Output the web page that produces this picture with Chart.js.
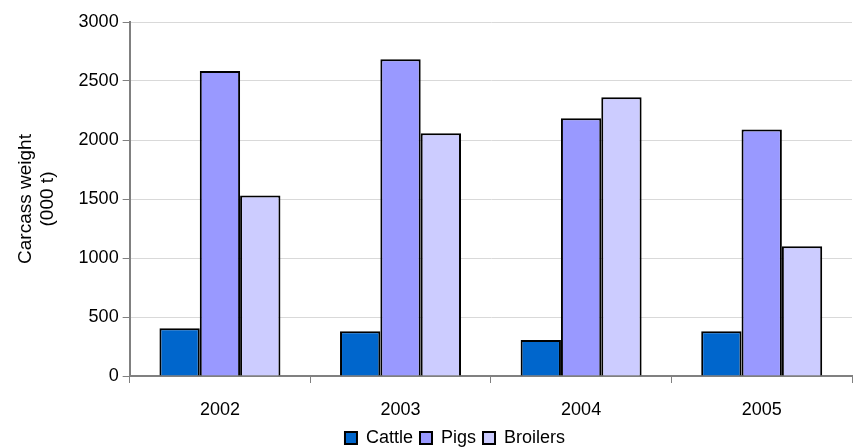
<!DOCTYPE html>
<html>
<head>
<meta charset="utf-8">
<script src="https://cdn.jsdelivr.net/npm/chart.js@4/dist/chart.umd.min.js"></script>
<style>
  html, body { margin: 0; padding: 0; background: #fff; }
  #wrap { width: 854px; height: 448px; }
</style>
</head>
<body>
<div id="wrap"><canvas id="chart" width="854" height="448"></canvas></div>
<script>
// values (000 t)
const years = ['2002', '2003', '2004', '2005'];
const cattle = [405, 380, 305, 380];
const pigs = [2585, 2685, 2185, 2090];
const broilers = [1530, 2058, 2362, 1100];
const yTicks = [0, 500, 1000, 1500, 2000, 2500, 3000];

const font = { family: '"Liberation Sans", Arial, sans-serif', size: 18 };

function series(label, data, color) {
  return {
    label, data,
    backgroundColor: color,
    borderColor: '#000',
    borderWidth: 2,
    barPercentage: 1,
    categoryPercentage: 0.67
  };
}

// nudge the legend down/right to where the reference puts it,
// and let the x axis box reach the bottom so its labels aren't clipped
const legendNudge = {
  id: 'legendNudge',
  afterLayout(chart) {
    const lg = chart.legend;
    lg.top += 9; lg.bottom += 9;
    lg.left += 24; lg.right += 24;
    const x = chart.scales.x;
    x.bottom = 448;
    x.height = x.bottom - x.top;
  }
};

new Chart(document.getElementById('chart'), {
  type: 'bar',
  data: {
    labels: years,
    datasets: [
      series('Cattle', cattle, '#0066cc'),
      series('Pigs', pigs, '#9999ff'),
      series('Broilers', broilers, '#ccccff')
    ]
  },
  plugins: [legendNudge],
  options: {
    responsive: false,
    animation: false,
    layout: { padding: { top: 22, right: 2, left: 10, bottom: 0 } },
    plugins: {
      tooltip: { enabled: false },
      legend: {
        position: 'bottom',
        labels: {
          font, color: '#000',
          boxWidth: 12, boxHeight: 12,
          padding: 7
        }
      }
    },
    scales: {
      x: {
        grid: { offset: true, drawOnChartArea: false, color: '#808080', tickLength: 7 },
        border: { color: '#808080', width: 2 },
        ticks: { font, color: '#000', padding: 16 },
        // keep the plot bottom where the reference has it
        afterFit: s => { s.height = 448 - 376 - s.chart.legend.height; }
      },
      y: {
        min: 0, max: 3000,
        afterBuildTicks: axis => { axis.ticks = yTicks.map(v => ({ value: v })); },
        grid: { color: '#d9d9d9', tickColor: '#808080', tickLength: 7 },
        border: { color: '#808080', width: 2 },
        ticks: { font, color: '#000', padding: 4, callback: v => String(v) },
        title: {
          display: true,
          text: ['Carcass weight', '(000 t)'],
          font: { family: font.family, size: 19 },
          color: '#000',
          padding: { bottom: 15 }
        }
      }
    }
  }
});
</script>
</body>
</html>
